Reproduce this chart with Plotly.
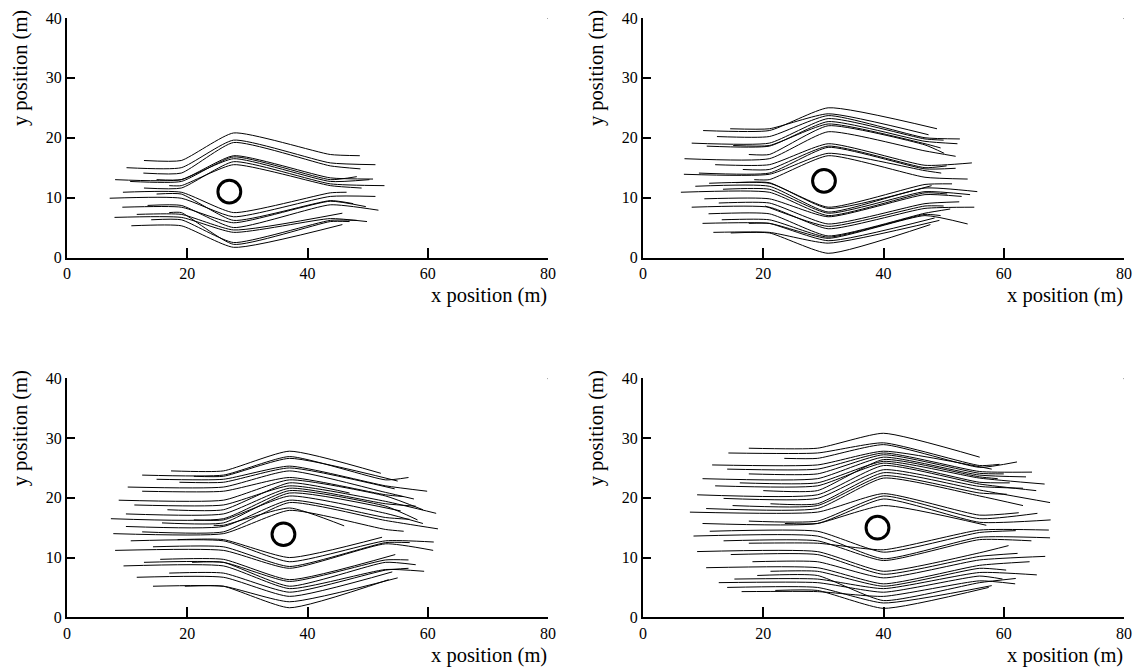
import plotly.graph_objects as go

# ---------------- data ----------------
# obstacle centre per panel (m)
obst_x = [27.0, 30.1, 36.0, 39.0]
obst_y = [11.0, 12.8, 13.9, 15.0]
obst_r = 1.9
# x where paths start bending, reach max deflection, and end the converging leg
bend_x = [19.0, 21.0, 26.0, 29.0]
peak_x = [27.7, 30.8, 37.0, 40.0]
turn_x = [43.8, 46.9, 53.0, 56.0]

# Panel 1
p1_x0 = [12.8, 9.9, 12.7, 8.0, 10.5, 14.9, 12.8, 17.0,
         9.3, 7.1, 14.9, 9.2, 13.4, 11.6, 7.9, 14.0, 10.7, 17.0]
p1_y0 = [16.2, 15.0, 14.1, 13.0, 12.7, 13.0, 11.6, 12.0,
         10.9, 9.9, 10.6, 8.4, 8.7, 7.2, 6.7, 6.3, 5.3, 7.5]
p1_ypk = [20.8, 19.6, 19.2, 17.0, 16.8, 16.5, 16.0, 15.5,
          7.5, 6.8, 6.2, 5.8, 5.0, 4.6, 4.2, 2.5, 1.7, 2.2]
p1_yturn = [17.2, 15.8, 15.3, 13.3, 13.0, 12.7, 12.3, 12.0,
            10.8, 10.2, 9.5, 9.4, 8.8, 7.4, 6.5, 6.2, 5.5, 6.0]
p1_xend = [48.7, 51.3, 48.8, 50.9, 48.2, 50.3, 52.8, 49.0,
           46.5, 51.3, 47.6, 49.7, 51.8, 45.8, 49.9, 48.2, 45.8, 47.0]
p1_yend = [17.0, 15.5, 14.8, 13.1, 13.5, 13.0, 12.0, 11.6,
           10.9, 10.2, 9.0, 8.5, 7.9, 7.4, 6.0, 6.2, 5.0, 6.0]

# Panel 2
p2_x0 = [10.0, 14.5, 12.3, 8.1, 10.6, 15.0, 17.6, 6.9, 12.0, 16.6, 9.3, 6.8, 18.5,
         11.0, 15.5, 8.7, 13.3, 6.3, 10.2, 12.6, 20.3, 8.1, 10.9, 13.1, 9.9, 17.6, 11.7, 14.6]
p2_y0 = [21.2, 21.5, 20.2, 19.1, 18.6, 18.7, 17.2, 16.5, 15.5, 14.7, 14.1, 13.9, 13.0,
         12.4, 12.5, 11.9, 11.4, 10.9, 9.8, 9.1, 8.6, 8.4, 7.3, 6.3, 5.7, 5.7, 4.2, 4.1]
p2_ypk = [25.0, 24.0, 23.7, 23.2, 22.7, 22.3, 22.0, 21.0, 19.0, 18.6, 18.4, 17.4, 17.0,
          8.4, 8.2, 7.6, 7.4, 7.0, 6.8, 5.6, 5.2, 4.8, 3.6, 3.4, 3.2, 2.8, 2.4, 0.7]
p2_yturn = [21.5, 20.5, 20.0, 19.8, 19.4, 19.0, 18.8, 17.8, 15.4, 15.0, 14.8, 14.5, 13.4,
            12.2, 12.0, 11.6, 11.0, 10.8, 10.5, 9.0, 8.6, 8.2, 7.4, 7.2, 7.0, 6.6, 6.2, 5.5]
p2_xend = [48.9, 47.5, 52.7, 50.0, 52.3, 49.5, 50.1, 52.0, 54.7, 50.5, 52.0, 49.6, 54.0,
           51.4, 48.0, 55.6, 54.4, 50.6, 53.0, 52.6, 50.0, 55.1, 51.1, 49.5, 54.0, 48.5, 49.3, 47.8]
p2_yend = [21.9, 20.3, 19.8, 19.6, 19.0, 18.3, 17.4, 16.9, 15.8, 15.3, 14.9, 14.1, 13.1,
           12.3, 12.0, 11.0, 10.5, 10.6, 10.2, 9.3, 8.6, 8.4, 8.1, 7.0, 5.6, 6.5, 4.0, 4.4]

# Panel 3
p3_x0 = [17.3, 12.5, 21.1, 14.9, 18.7, 10.1, 12.5, 8.6, 16.7, 11.2, 9.8, 7.3, 15.8, 21.1, 9.8, 12.5, 24.4, 7.7,
         18.4, 10.6, 14.3, 8.0, 15.5, 12.8, 20.8, 9.4, 17.0, 11.6, 14.3, 19.6]
p3_y0 = [24.5, 23.8, 23.6, 23.1, 22.6, 21.8, 21.1, 19.6, 18.0, 18.8, 17.3, 16.5, 15.8, 16.3, 15.2, 14.3, 15.4, 14.0,
         13.0, 12.8, 11.8, 11.2, 9.7, 9.2, 9.2, 8.6, 7.4, 6.7, 5.2, 5.2]
p3_ypk = [27.8, 26.9, 26.6, 25.3, 25.0, 24.5, 23.4, 23.0, 22.5, 22.0, 21.6, 21.2, 20.8, 20.3, 19.6, 19.2, 18.3, 17.9,
          10.0, 9.3, 8.5, 8.2, 6.3, 6.0, 5.2, 4.8, 4.2, 3.5, 2.6, 1.6]
p3_yturn = [24.1, 23.0, 22.8, 22.0, 21.5, 20.9, 20.5, 20.3, 19.8, 19.4, 19.0, 18.6, 17.8, 17.4, 16.7, 16.2, 15.3, 14.7,
            13.5, 12.8, 12.5, 12.3, 10.5, 9.6, 9.2, 8.0, 7.9, 7.6, 6.6, 6.3]
p3_xend = [52.2, 56.8, 55.0, 59.9, 54.5, 57.7, 56.0, 59.2, 47.0, 61.4, 58.0, 58.3, 55.5, 59.2, 57.0, 61.7, 46.1, 56.0,
           52.4, 61.0, 57.0, 60.9, 54.6, 56.8, 58.0, 59.4, 56.8, 54.1, 55.0, 53.5]
p3_yend = [24.1, 23.4, 22.6, 21.1, 21.4, 19.8, 20.2, 18.0, 20.8, 17.4, 18.6, 16.3, 17.6, 15.7, 16.4, 14.8, 15.3, 14.4,
           13.4, 12.6, 12.5, 11.2, 10.4, 9.6, 8.8, 7.7, 8.2, 6.6, 6.0, 6.0]

# Panel 4
p4_x0 = [17.6, 14.2, 23.5, 11.5, 14.0, 17.6, 9.9, 20.0, 16.1, 12.0, 9.0, 13.4, 21.2, 14.9, 10.5, 7.8, 17.6, 9.9, 23.6,
         17.6, 11.1, 8.4, 13.4, 9.0, 14.6, 18.2, 10.5, 21.2, 15.2, 12.6, 16.4, 19.0, 14.0, 22.0]
p4_y0 = [28.3, 27.5, 26.6, 25.5, 24.8, 24.0, 23.2, 21.2, 22.5, 22.0, 20.5, 19.9, 19.0, 18.7, 18.2, 17.6, 16.1, 15.7, 15.7,
         12.4, 14.4, 13.6, 12.8, 11.0, 10.5, 9.3, 8.3, 7.7, 6.4, 5.8, 4.3, 7.0, 5.0, 4.5]
p4_ypk = [30.8, 29.2, 28.9, 27.8, 27.5, 27.2, 26.8, 26.4, 26.1, 25.8, 25.4, 24.7, 24.2, 23.7, 23.3, 20.7, 20.3, 19.8, 18.7,
          11.3, 10.9, 9.8, 9.5, 7.7, 7.2, 6.6, 5.6, 5.2, 4.8, 4.2, 3.5, 2.8, 2.4, 1.5]
p4_yturn = [26.8, 25.4, 25.1, 24.8, 24.4, 24.1, 23.8, 23.5, 23.3, 22.6, 22.3, 21.9, 21.3, 20.8, 20.3, 17.1, 16.5, 15.9, 15.4,
            14.6, 14.2, 13.4, 13.0, 10.8, 10.2, 9.6, 8.7, 8.2, 7.5, 6.9, 6.1, 5.8, 5.3, 5.0]
p4_xend = [56.0, 59.3, 62.2, 58.0, 64.7, 60.0, 63.7, 59.0, 66.8, 61.0, 65.4, 63.2, 67.7, 60.5, 63.2, 62.5, 65.6, 67.8, 57.1,
           67.5, 62.0, 67.7, 64.6, 60.8, 62.3, 66.9, 64.3, 60.4, 65.5, 59.8, 61.9, 62.0, 58.0, 57.5]
p4_yend = [26.8, 25.6, 26.0, 24.6, 24.3, 24.0, 23.5, 23.2, 22.3, 22.5, 21.2, 21.6, 19.2, 20.6, 18.7, 17.5, 17.4, 16.3, 15.4,
           14.6, 14.5, 13.3, 12.8, 12.0, 10.7, 10.2, 9.3, 7.9, 7.1, 6.4, 5.6, 6.5, 5.0, 5.2]

panels = [
    (p1_x0, p1_y0, p1_ypk, p1_yturn, p1_xend, p1_yend),
    (p2_x0, p2_y0, p2_ypk, p2_yturn, p2_xend, p2_yend),
    (p3_x0, p3_y0, p3_ypk, p3_yturn, p3_xend, p3_yend),
    (p4_x0, p4_y0, p4_ypk, p4_yturn, p4_xend, p4_yend),
]

# ---------------- layout geometry (window pixels) ----------------
W, H = 1133, 668
col_px = [(67, 548), (643, 1124)]
row_px = [(18, 257.5), (378.3, 617.3)]  # (top, bottom)


def px(xp):
    return xp / W


def py(yp):
    return 1 - yp / H


FONT = "Liberation Serif, Times New Roman, serif"
fig = go.Figure()

for i, data in enumerate(panels):
    r, c = divmod(i, 2)
    xa = "x" if i == 0 else f"x{i+1}"
    ya = "y" if i == 0 else f"y{i+1}"
    x0s, y0s, ypks, yturns, xends, yends = data
    for j in range(len(x0s)):
        xs = [x0s[j]]
        ys = [y0s[j]]
        if x0s[j] < bend_x[i] - 1:
            xs.append(bend_x[i]); ys.append(y0s[j])
        xs.append(peak_x[i]); ys.append(ypks[j])
        if xends[j] > turn_x[i] + 2.5:
            xs.append(turn_x[i]); ys.append(yturns[j])
            xs.append(xends[j]); ys.append(yends[j])
        else:
            xs.append(xends[j]); ys.append(yturns[j] if xends[j] > turn_x[i] else yends[j])
        fig.add_trace(go.Scatter(x=xs, y=ys, mode="lines", xaxis=xa, yaxis=ya,
                                 line=dict(color="black", width=1, shape="spline", smoothing=0.5),
                                 showlegend=False, hoverinfo="skip"))
    # small corner dot
    fig.add_trace(go.Scatter(x=[80], y=[40], mode="markers", xaxis=xa, yaxis=ya,
                             marker=dict(size=2, color="#888"), showlegend=False, hoverinfo="skip"))
    # obstacle
    fig.add_shape(type="circle", xref=xa, yref=ya,
                  x0=obst_x[i] - obst_r, x1=obst_x[i] + obst_r,
                  y0=obst_y[i] - obst_r, y1=obst_y[i] + obst_r,
                  line=dict(color="black", width=3))

    xl, xr = col_px[c]
    yt, yb = row_px[r]
    axis_common = dict(showline=True, linecolor="black", linewidth=2, ticks="inside",
                       tickwidth=2, tickcolor="black", showgrid=False, zeroline=False,
                       automargin=False,
                       tickfont=dict(family=FONT, size=16, color="black"), mirror=False)
    fig.update_layout(**{
        ("xaxis" if i == 0 else f"xaxis{i+1}"): dict(
            domain=[px(xl), px(xr)], range=[0, 80], dtick=20, ticklen=10,
            anchor=ya, **axis_common),
        ("yaxis" if i == 0 else f"yaxis{i+1}"): dict(
            domain=[py(yb), py(yt)], range=[0, 40], dtick=10, ticklen=8,
            anchor=xa, **axis_common),
    })
    fig.add_annotation(text="x position (m)", xref="paper", yref="paper",
                       x=px(xr + 1), y=py(yb + 38.5), xanchor="right", yanchor="middle",
                       showarrow=False, font=dict(family=FONT, size=20.5, color="black"))
    fig.add_annotation(text="y position (m)", xref="paper", yref="paper",
                       x=px(xl - 47), y=py(yt + 50), xanchor="center", yanchor="middle",
                       textangle=-90, showarrow=False,
                       font=dict(family=FONT, size=20.5, color="black"))

fig.update_layout(width=W, height=H, margin=dict(l=0, r=0, t=0, b=0),
                  paper_bgcolor="white", plot_bgcolor="white")
# remove the default 8px page margin so the figure fills the window exactly
fig.write_html("out.html", config={"displayModeBar": False},
               post_script="document.body.style.margin='0';")
